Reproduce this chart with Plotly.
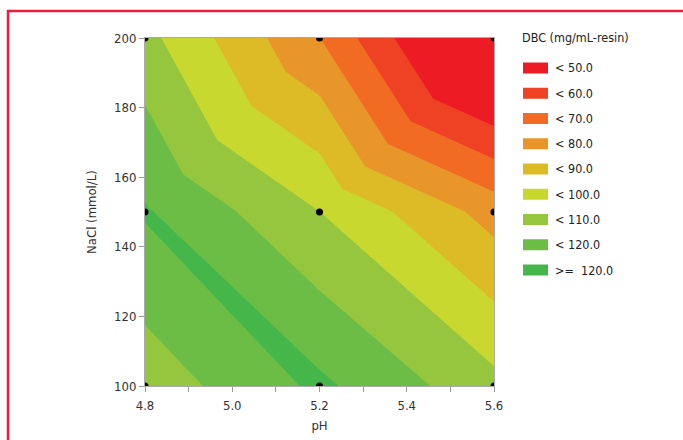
import plotly.graph_objects as go

# ---- data (design points) ----
ph = [4.8, 5.2, 5.6]
nacl = [100, 150, 200]
dbc = [
    [104, 122, 103],   # NaCl = 100
    [121, 100, 76],    # NaCl = 150
    [103, 70, 23],     # NaCl = 200
]
# triangulation of each row of grid cells: "up" = lower-left -> upper-right diagonal
cell_diagonal = ["down", "up"]

levels = [50, 60, 70, 80, 90, 100, 110, 120]
band_labels = ["< 50.0", "< 60.0", "< 70.0", "< 80.0", "< 90.0",
               "< 100.0", "< 110.0", "< 120.0", ">=  120.0"]
band_colors = ["#ED1C24", "#EF4123", "#F26B23", "#E8962A", "#DDBB26",
               "#C8D82E", "#96C63D", "#6BBD45", "#45B649"]
legend_title = "DBC (mg/mL-resin)"
x_title = "pH"
y_title = "NaCl (mmol/L)"

# ---- triangulated linear contour bands ----
def vert(i, j):
    return (ph[i], nacl[j], dbc[j][i])

tris = []
for j in range(len(nacl) - 1):
    for i in range(len(ph) - 1):
        ll, lr, ul, ur = vert(i, j), vert(i + 1, j), vert(i, j + 1), vert(i + 1, j + 1)
        if cell_diagonal[j] == "up":
            tris += [(ll, lr, ur), (ll, ur, ul)]
        else:
            tris += [(ll, lr, ul), (lr, ur, ul)]


def clip(poly, level, keep_above):
    out = []
    n = len(poly)
    for k in range(n):
        a, b = poly[k], poly[(k + 1) % n]
        ina = a[2] >= level if keep_above else a[2] <= level
        inb = b[2] >= level if keep_above else b[2] <= level
        if ina:
            out.append(a)
        if ina != inb:
            t = (level - a[2]) / (b[2] - a[2])
            out.append((a[0] + t * (b[0] - a[0]), a[1] + t * (b[1] - a[1]), level))
    return out


fig = go.Figure()
nb = len(levels) + 1
for k in range(nb):
    lo = levels[k - 1] if k > 0 else None
    hi = levels[k] if k < len(levels) else None
    xs, ys = [], []
    for tri in tris:
        poly = list(tri)
        if lo is not None:
            poly = clip(poly, lo, True)
        if len(poly) >= 3 and hi is not None:
            poly = clip(poly, hi, False)
        if len(poly) >= 3:
            xs += [p[0] for p in poly] + [poly[0][0], None]
            ys += [p[1] for p in poly] + [poly[0][1], None]
    if xs:
        fig.add_trace(go.Scatter(
            x=xs, y=ys, mode="lines", fill="toself",
            fillcolor=band_colors[k],
            line=dict(color=band_colors[k], width=1),
            hoverinfo="skip", showlegend=False))

# design points
px_pts = [p for n_ in nacl for p in ph]
py_pts = [n_ for n_ in nacl for p in ph]
fig.add_trace(go.Scatter(x=px_pts, y=py_pts, mode="markers",
                         marker=dict(color="black", size=7),
                         showlegend=False, hoverinfo="skip"))

# ---- layout ----
L, R, T, B = 145, 494, 38, 386
W, H = 683, 440


def fx(px):
    return (px - L) / (R - L)


def fy(py):
    return (B - py) / (B - T)


font_family = "Liberation Sans Narrow, DejaVu Sans Condensed, Arial Narrow, sans-serif"
shapes = []
annotations = []

annotations.append(dict(xref="paper", yref="paper", x=fx(520), y=fy(37),
                        text=legend_title, showarrow=False, xanchor="left",
                        yanchor="middle", font=dict(size=12.5, color="#222")))
for k in range(nb):
    cy = 68 + 25.25 * k
    shapes.append(dict(type="rect", xref="paper", yref="paper",
                       x0=fx(523), x1=fx(548), y0=fy(cy + 5.5), y1=fy(cy - 5.5),
                       fillcolor=band_colors[k], line=dict(width=0)))
    annotations.append(dict(xref="paper", yref="paper", x=fx(553), y=fy(cy),
                            text=band_labels[k], showarrow=False, xanchor="left",
                            yanchor="middle", font=dict(size=12.5, color="#222")))

# red frame
shapes.append(dict(type="rect", xref="paper", yref="paper",
                   x0=fx(8), x1=fx(720), y0=fy(480), y1=fy(11),
                   line=dict(color="#EC1C3C", width=2.5), fillcolor="rgba(0,0,0,0)"))

axis_common = dict(showgrid=False, zeroline=False, showline=True, linecolor="#aaaaaa",
                   linewidth=1, mirror=True, ticks="outside", ticklen=5,
                   tickcolor="#999999", tickfont=dict(size=13, color="#333"),
                   automargin=False)

fig.update_layout(
    width=W, height=H,
    margin=dict(l=L, r=W - R, t=T, b=H - B),
    paper_bgcolor="white", plot_bgcolor="white",
    font=dict(family=font_family, size=13, color="#333"),
    xaxis=dict(range=[ph[0], ph[-1]], tick0=4.8, dtick=0.2, tickformat=".1f",
               minor=dict(ticks="outside", ticklen=5, tickcolor="#999999", dtick=0.1,
                          tick0=4.8, showgrid=False),
               title=dict(text=x_title, standoff=9, font=dict(size=13)),
               ticklabelstandoff=2,
               **axis_common),
    yaxis=dict(range=[nacl[0], nacl[-1]], tick0=100, dtick=20,
               title=dict(text=y_title, standoff=14, font=dict(size=13)),
               **axis_common),
    shapes=shapes, annotations=annotations, showlegend=False,
)

fig.write_html("out.html")
